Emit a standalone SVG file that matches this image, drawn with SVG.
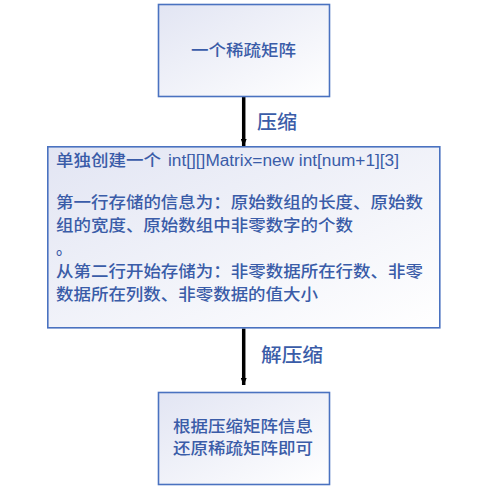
<svg xmlns="http://www.w3.org/2000/svg" width="478" height="491" viewBox="0 0 478 491">
<defs>
<linearGradient id="g" x1="0" y1="0" x2="1" y2="1">
<stop offset="0" stop-color="#e2e5f3"/>
<stop offset="1" stop-color="#ffffff"/>
</linearGradient>
<marker id="ah" markerWidth="7" markerHeight="6" refX="7" refY="3" orient="auto" markerUnits="userSpaceOnUse">
<path d="M0,0 L7,3 L0,6 Z" fill="#000"/>
</marker>
<style>
.box{fill:url(#g);stroke:#4a72c0;stroke-width:1.6}
.t{font-family:"Noto Sans CJK SC","Microsoft YaHei",sans-serif;font-size:16px;font-weight:500;fill:#3a5ca8}
.l{font-family:"Liberation Sans","Open Sans",sans-serif;font-size:16px;fill:#3a5ca8}
.big{font-family:"Noto Sans CJK SC",sans-serif;font-size:19px;font-weight:500;fill:#3a5ca8}
.c{stroke:#000;stroke-width:3.5;fill:none}
</style>
</defs>
<rect width="478" height="491" fill="#fff"/>
<g id="connectors">
<line class="c" x1="243.7" y1="96.5" x2="243.7" y2="146" marker-end="url(#ah)"/>
<text class="big" x="257" y="129" textLength="40" lengthAdjust="spacingAndGlyphs">压缩</text>
<line class="c" x1="243.7" y1="328.5" x2="243.7" y2="385" marker-end="url(#ah)"/>
<text class="big" x="261" y="362" textLength="62" lengthAdjust="spacingAndGlyphs">解压缩</text>
</g>
<g id="node1">
<rect class="box" x="158.5" y="4.5" width="171" height="92"/>
<text class="t" x="191" y="56" textLength="105" lengthAdjust="spacingAndGlyphs">一个稀疏矩阵</text>
</g>
<g id="node2">
<rect class="box" x="47.8" y="146.8" width="392" height="181"/>
<text class="t" x="56" y="166" textLength="105" lengthAdjust="spacingAndGlyphs">单独创建一个</text>
<text class="l" x="168" y="166" textLength="231" lengthAdjust="spacingAndGlyphs">int[][]Matrix=new int[num+1][3]</text>
<text class="t" x="56" y="208" textLength="367" lengthAdjust="spacingAndGlyphs">第一行存储的信息为：原始数组的长度、原始数</text>
<text class="t" x="56" y="231" textLength="297" lengthAdjust="spacingAndGlyphs">组的宽度、原始数组中非零数字的个数</text>
<text class="t" x="56" y="254">。</text>
<text class="t" x="56" y="277" textLength="367" lengthAdjust="spacingAndGlyphs">从第二行开始存储为：非零数据所在行数、非零</text>
<text class="t" x="56" y="300" textLength="262" lengthAdjust="spacingAndGlyphs">数据所在列数、非零数据的值大小</text>
</g>
<g id="node3">
<rect class="box" x="158.5" y="392.5" width="171" height="92"/>
<text class="t" x="173" y="432" textLength="140" lengthAdjust="spacingAndGlyphs">根据压缩矩阵信息</text>
<text class="t" x="173" y="454" textLength="140" lengthAdjust="spacingAndGlyphs">还原稀疏矩阵即可</text>
</g>
</svg>
